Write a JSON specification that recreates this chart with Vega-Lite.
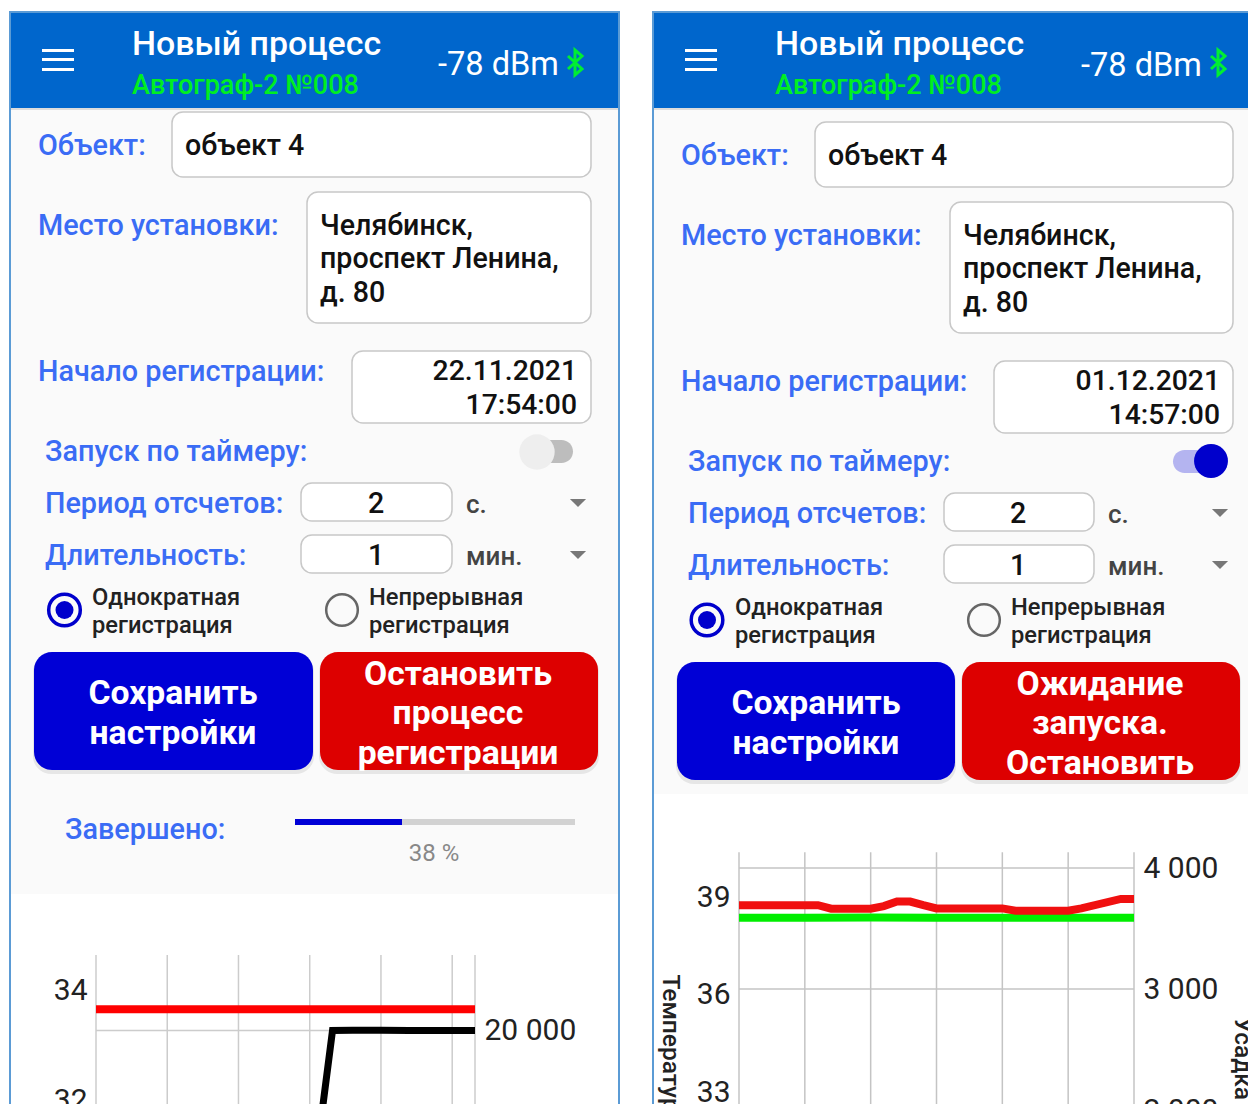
{
"$schema":"https://vega.github.io/schema/vega-lite/v6.json",
"width":1248,"height":1104,"padding":0,"autosize":{"type":"none"},
"background":"#ffffff",
"config":{"view":{"stroke":null},"text":{"font":"Roboto","baseline":"middle"}},
"datasets":{
"panels":[{"x":10,"x2":619,"y":12,"y2":1110},{"x":653,"x2":1262,"y":12,"y2":1110}],
"bodies":[{"x":11,"x2":618,"y":108,"y2":894},{"x":654,"x2":1262,"y":108,"y2":794}],
"headers":[{"x":11,"x2":618,"y":13,"y2":108},{"x":654,"x2":1262,"y":13,"y2":108}],
"headerShadow":[{"x":11,"x2":618,"y":108,"y2":110},{"x":654,"x2":1262,"y":108,"y2":110}],
"menu":[{"x":42,"x2":74,"y":49,"y2":52},{"x":42,"x2":74,"y":58,"y2":61},{"x":42,"x2":74,"y":68,"y2":71},{"x":685,"x2":717,"y":49,"y2":52},{"x":685,"x2":717,"y":58,"y2":61},{"x":685,"x2":717,"y":68,"y2":71}],
"bt":[{"p":"L","o":1,"x":568,"y":56},{"p":"L","o":2,"x":582,"y":69},{"p":"L","o":3,"x":575,"y":75},{"p":"L","o":4,"x":575,"y":50},{"p":"L","o":5,"x":582,"y":56},{"p":"L","o":6,"x":568,"y":69},{"p":"R","o":1,"x":1211,"y":56},{"p":"R","o":2,"x":1225,"y":69},{"p":"R","o":3,"x":1218,"y":75},{"p":"R","o":4,"x":1218,"y":50},{"p":"R","o":5,"x":1225,"y":56},{"p":"R","o":6,"x":1211,"y":69}],
"boxes":[{"x":172,"x2":591,"y":112,"y2":177},{"x":307,"x2":591,"y":192,"y2":323},{"x":352,"x2":591,"y":351,"y2":423},{"x":301,"x2":452,"y":483,"y2":521},{"x":301,"x2":452,"y":535,"y2":573},{"x":815,"x2":1233,"y":122,"y2":187},{"x":950,"x2":1233,"y":202,"y2":333},{"x":994,"x2":1233,"y":361,"y2":433},{"x":944,"x2":1094,"y":493,"y2":531},{"x":944,"x2":1094,"y":545,"y2":583}],
"trackOff":[{"x":525,"x2":573,"y":440,"y2":463}],
"trackOn":[{"x":1173,"x2":1223,"y":450,"y2":473}],
"thumbOff":[{"x":537,"y":452}],
"thumbOn":[{"x":1211,"y":461}],
"tri":[{"x":578,"y":503},{"x":578,"y":555},{"x":1220,"y":513},{"x":1220,"y":565}],
"radioOn":[{"x":64.5,"y":610},{"x":707,"y":620}],
"radioOff":[{"x":342,"y":610},{"x":984,"y":620}],
"shadows":[{"x":33,"x2":314,"y":654,"y2":774},{"x":319,"x2":599,"y":654,"y2":774},{"x":676,"x2":956,"y":664,"y2":784},{"x":961,"x2":1241,"y":664,"y2":784}],
"blueBtn":[{"x":34,"x2":313,"y":652,"y2":770},{"x":677,"x2":955,"y":662,"y2":780}],
"redBtn":[{"x":320,"x2":598,"y":652,"y2":770},{"x":962,"x2":1240,"y":662,"y2":780}],
"progTrack":[{"x":295,"x2":575,"y":819,"y2":825}],
"progFill":[{"x":295,"x2":402,"y":819,"y2":825}],
"titles":[{"x":132,"y":44,"t":"Новый процесс"},{"x":775,"y":44,"t":"Новый процесс"}],
"signal":[{"x":438,"y":64,"t":"-78 dBm"},{"x":1081,"y":65,"t":"-78 dBm"}],
"device":[{"x":132,"y":85,"t":"Автограф-2 №008"},{"x":775,"y":85,"t":"Автограф-2 №008"}],
"labels":[{"x":38,"y":145,"t":"Объект:"},{"x":38,"y":225,"t":"Место установки:"},{"x":38,"y":371,"t":"Начало регистрации:"},{"x":45,"y":451,"t":"Запуск по таймеру:"},{"x":45,"y":503,"t":"Период отсчетов:"},{"x":45,"y":555,"t":"Длительность:"},{"x":65,"y":829,"t":"Завершено:"},{"x":681,"y":155,"t":"Объект:"},{"x":681,"y":235,"t":"Место установки:"},{"x":681,"y":381,"t":"Начало регистрации:"},{"x":688,"y":461,"t":"Запуск по таймеру:"},{"x":688,"y":513,"t":"Период отсчетов:"},{"x":688,"y":565,"t":"Длительность:"}],
"values":[{"x":185,"y":145,"t":"объект 4"},{"x":320,"y":225,"t":"Челябинск,"},{"x":320,"y":258,"t":"проспект Ленина,"},{"x":320,"y":292,"t":"д. 80"},{"x":828,"y":155,"t":"объект 4"},{"x":963,"y":235,"t":"Челябинск,"},{"x":963,"y":268,"t":"проспект Ленина,"},{"x":963,"y":302,"t":"д. 80"}],
"valuesRight":[{"x":577,"y":371,"t":"22.11.2021"},{"x":577,"y":405,"t":"17:54:00"},{"x":1220,"y":381,"t":"01.12.2021"},{"x":1220,"y":415,"t":"14:57:00"}],
"valuesCenter":[{"x":376,"y":503,"t":"2"},{"x":376,"y":555,"t":"1"},{"x":1018,"y":513,"t":"2"},{"x":1018,"y":565,"t":"1"}],
"units":[{"x":466,"y":504,"t":"с."},{"x":466,"y":556,"t":"мин."},{"x":1108,"y":514,"t":"с."},{"x":1108,"y":566,"t":"мин."}],
"radioText":[{"x":92,"y":598,"t":"Однократная"},{"x":92,"y":626,"t":"регистрация"},{"x":369,"y":598,"t":"Непрерывная"},{"x":369,"y":626,"t":"регистрация"},{"x":735,"y":608,"t":"Однократная"},{"x":735,"y":636,"t":"регистрация"},{"x":1011,"y":608,"t":"Непрерывная"},{"x":1011,"y":636,"t":"регистрация"}],
"btnText":[{"x":173,"y":693,"t":"Сохранить"},{"x":173,"y":733,"t":"настройки"},{"x":458,"y":674,"t":"Остановить"},{"x":458,"y":713,"t":"процесс"},{"x":458,"y":753,"t":"регистрации"},{"x":816,"y":703,"t":"Сохранить"},{"x":816,"y":743,"t":"настройки"},{"x":1100,"y":684,"t":"Ожидание"},{"x":1100,"y":723,"t":"запуска."},{"x":1100,"y":763,"t":"Остановить"}],
"pct":[{"x":434,"y":853,"t":"38 %"}],
"leftGridX":[{"t":0},{"t":10},{"t":20},{"t":30},{"t":40},{"t":50},{"t":53.2}],
"leftTemp":[{"t":0,"v":33.65},{"t":10,"v":33.65},{"t":20,"v":33.65},{"t":30,"v":33.65},{"t":40,"v":33.65},{"t":53.2,"v":33.65}],
"leftShrink":[{"t":30,"v":8900},{"t":33.2,"v":20000},{"t":36,"v":20020},{"t":40,"v":20020},{"t":44,"v":20000},{"t":48,"v":20000},{"t":53.2,"v":20000}],
"leftGridY":[{"v":20000}],
"rightGridX":[{"t":0},{"t":10},{"t":20},{"t":30},{"t":40},{"t":50},{"t":60}],
"rightGridY":[{"v":2000},{"v":3000},{"v":4000}],
"rightTemp":[{"t":0,"v":38.75},{"t":12,"v":38.75},{"t":14,"v":38.64},{"t":20,"v":38.64},{"t":22,"v":38.72},{"t":24,"v":38.86},{"t":26,"v":38.86},{"t":28,"v":38.75},{"t":30,"v":38.65},{"t":40,"v":38.65},{"t":42,"v":38.58},{"t":50,"v":38.58},{"t":52,"v":38.65},{"t":58,"v":38.94},{"t":60,"v":38.94}],
"rightTemp2":[{"t":0,"v":38.36},{"t":10,"v":38.36},{"t":20,"v":38.37},{"t":30,"v":38.36},{"t":40,"v":38.36},{"t":50,"v":38.36},{"t":60,"v":38.36}]
},
"resolve":{"scale":{"x":"independent","y":"independent"},"axis":{"x":"independent","y":"independent"}},
"layer":[
{
"encoding":{
"x":{"field":"x","type":"quantitative","scale":{"domain":[0,1248],"range":[0,1248],"nice":false,"zero":false},"axis":null},
"y":{"field":"y","type":"quantitative","scale":{"domain":[0,1104],"range":[0,1104],"nice":false,"zero":false},"axis":null}
},
"layer":[
{"data":{"name":"panels"},"mark":{"type":"rect","fill":"#ffffff","stroke":"#5b9bd5","strokeWidth":2},"encoding":{"x2":{"field":"x2"},"y2":{"field":"y2"}}},
{"data":{"name":"bodies"},"mark":{"type":"rect","fill":"#fafafa"},"encoding":{"x2":{"field":"x2"},"y2":{"field":"y2"}}},
{"data":{"name":"headers"},"mark":{"type":"rect","fill":"#0066cc"},"encoding":{"x2":{"field":"x2"},"y2":{"field":"y2"}}},
{"data":{"name":"headerShadow"},"mark":{"type":"rect","fill":"#dddddd"},"encoding":{"x2":{"field":"x2"},"y2":{"field":"y2"}}},
{"data":{"name":"menu"},"mark":{"type":"rect","fill":"#ffffff"},"encoding":{"x2":{"field":"x2"},"y2":{"field":"y2"}}},
{"data":{"name":"bt"},"mark":{"type":"line","color":"#00ee33","strokeWidth":3},"encoding":{"detail":{"field":"p"},"order":{"field":"o"}}},
{"data":{"name":"boxes"},"mark":{"type":"rect","fill":"#ffffff","stroke":"#c8c8c8","strokeWidth":1.5,"cornerRadius":11},"encoding":{"x2":{"field":"x2"},"y2":{"field":"y2"}}},
{"data":{"name":"trackOff"},"mark":{"type":"rect","fill":"#bdbdbd","cornerRadius":12},"encoding":{"x2":{"field":"x2"},"y2":{"field":"y2"}}},
{"data":{"name":"trackOn"},"mark":{"type":"rect","fill":"#b4b4f0","cornerRadius":12},"encoding":{"x2":{"field":"x2"},"y2":{"field":"y2"}}},
{"data":{"name":"thumbOff"},"mark":{"type":"point","filled":true,"shape":"circle","size":1250,"color":"#eeeeee","opacity":1}},
{"data":{"name":"thumbOn"},"mark":{"type":"point","filled":true,"shape":"circle","size":1150,"color":"#0000cc","opacity":1}},
{"data":{"name":"tri"},"mark":{"type":"point","filled":true,"shape":"M-1,-0.5L1,-0.5L0,0.5Z","size":260,"color":"#777777","opacity":1}},
{"data":{"name":"radioOn"},"mark":{"type":"point","shape":"circle","size":1000,"color":"#0000cc","strokeWidth":3.5,"opacity":1}},
{"data":{"name":"radioOn"},"mark":{"type":"point","filled":true,"shape":"circle","size":324,"color":"#0000cc","opacity":1}},
{"data":{"name":"radioOff"},"mark":{"type":"point","shape":"circle","size":1000,"color":"#666666","strokeWidth":2.5,"opacity":1}},
{"data":{"name":"shadows"},"mark":{"type":"rect","fill":"#e6e6e6","cornerRadius":18},"encoding":{"x2":{"field":"x2"},"y2":{"field":"y2"}}},
{"data":{"name":"blueBtn"},"mark":{"type":"rect","fill":"#0000d6","cornerRadius":18},"encoding":{"x2":{"field":"x2"},"y2":{"field":"y2"}}},
{"data":{"name":"redBtn"},"mark":{"type":"rect","fill":"#dd0000","cornerRadius":18},"encoding":{"x2":{"field":"x2"},"y2":{"field":"y2"}}},
{"data":{"name":"progTrack"},"mark":{"type":"rect","fill":"#d2d2d2"},"encoding":{"x2":{"field":"x2"},"y2":{"field":"y2"}}},
{"data":{"name":"progFill"},"mark":{"type":"rect","fill":"#0000d6"},"encoding":{"x2":{"field":"x2"},"y2":{"field":"y2"}}},
{"data":{"name":"titles"},"mark":{"type":"text","align":"left","dy":1,"fontSize":33.9,"fontWeight":500,"color":"#ffffff"},"encoding":{"text":{"field":"t"}}},
{"data":{"name":"signal"},"mark":{"type":"text","align":"left","dy":1,"fontSize":32.6,"color":"#ffffff"},"encoding":{"text":{"field":"t"}}},
{"data":{"name":"device"},"mark":{"type":"text","align":"left","dy":1,"fontSize":27,"fontWeight":500,"color":"#00ee22"},"encoding":{"text":{"field":"t"}}},
{"data":{"name":"labels"},"mark":{"type":"text","align":"left","dy":1,"fontSize":28.8,"fontWeight":500,"color":"#3a6cf5"},"encoding":{"text":{"field":"t"}}},
{"data":{"name":"values"},"mark":{"type":"text","align":"left","dy":1,"fontSize":28.6,"fontWeight":500,"color":"#111111"},"encoding":{"text":{"field":"t"}}},
{"data":{"name":"valuesRight"},"mark":{"type":"text","align":"right","dy":1,"fontSize":28.3,"fontWeight":500,"color":"#111111"},"encoding":{"text":{"field":"t"}}},
{"data":{"name":"valuesCenter"},"mark":{"type":"text","align":"center","dy":1,"fontSize":28.6,"fontWeight":500,"color":"#111111"},"encoding":{"text":{"field":"t"}}},
{"data":{"name":"units"},"mark":{"type":"text","align":"left","dy":1,"fontSize":26,"fontWeight":500,"color":"#444444"},"encoding":{"text":{"field":"t"}}},
{"data":{"name":"radioText"},"mark":{"type":"text","align":"left","dy":0,"fontSize":23.7,"fontWeight":500,"color":"#222222"},"encoding":{"text":{"field":"t"}}},
{"data":{"name":"btnText"},"mark":{"type":"text","align":"center","dy":1,"fontSize":33.7,"fontWeight":700,"color":"#ffffff"},"encoding":{"text":{"field":"t"}}},
{"data":{"name":"pct"},"mark":{"type":"text","align":"center","dy":1,"fontSize":24,"color":"#888888"},"encoding":{"text":{"field":"t"}}}
]
},
{
"layer":[
{"data":{"name":"leftGridX"},"mark":{"type":"rule","color":"#cccccc","strokeWidth":1.5},"encoding":{
"x":{"field":"t","type":"quantitative","scale":{"domain":[0,53.2],"range":[96,475],"nice":false,"zero":false},"axis":null},
"y":{"datum":34.636,"type":"quantitative","scale":{"domain":[32,34],"range":[1100,990],"nice":false,"zero":false},
"axis":{"zindex":1,"orient":"left","offset":-96,"values":[32,34],"format":"d","domain":false,"ticks":false,"grid":false,"title":null,"labelPadding":9,"labelFont":"Roboto","labelFontSize":30,"labelColor":"#222222","labelOverlap":false,"labelBound":false,"labelFlush":false}},"y2":{"datum":31}}},
{"data":{"name":"leftTemp"},"mark":{"type":"line","color":"#ff0000","strokeWidth":8},"encoding":{
"x":{"field":"t","type":"quantitative"},
"y":{"field":"v","type":"quantitative"}}}
]
},
{
"layer":[
{"data":{"name":"leftGridY"},"mark":{"type":"rule","color":"#cccccc","strokeWidth":1.5},"encoding":{
"y":{"field":"v","type":"quantitative","scale":{"domain":[0,20000],"range":[1350,1030.5],"nice":false,"zero":false},"axis":{"zindex":1,"orient":"right","offset":-773,"values":[20000],"domain":false,"ticks":false,"grid":false,"title":null,"labelPadding":9,"labelFont":"Roboto","labelFontSize":30,"labelColor":"#222222","labelOverlap":false,"labelBound":false,"labelFlush":false,"labelExpr":"replace(format(datum.value,',d'),',',' ')"}},
"x":{"datum":0,"type":"quantitative","scale":{"domain":[0,53.2],"range":[96,475],"nice":false,"zero":false},"axis":null},"x2":{"datum":53.2}}},
{"data":{"name":"leftShrink"},"mark":{"type":"line","color":"#000000","strokeWidth":7},"encoding":{
"x":{"field":"t","type":"quantitative"},
"y":{"field":"v","type":"quantitative"}}}
]
},
{
"layer":[
{"data":{"name":"rightGridX"},"mark":{"type":"rule","color":"#c4c4c4","strokeWidth":1.5},"encoding":{
"x":{"field":"t","type":"quantitative","scale":{"domain":[0,60],"range":[739,1134],"nice":false,"zero":false},"axis":null},
"y":{"datum":40.38,"type":"quantitative","scale":{"domain":[33,39],"range":[1092,897],"nice":false,"zero":false},
"axis":{"zindex":1,"orient":"left","offset":-739,"values":[33,36,39],"format":"d","domain":false,"ticks":false,"grid":false,"title":"Температура","titleFont":"Roboto","titleFontSize":24.5,"titleFontWeight":500,"titleColor":"#222222","titleAngle":90,"titleAlign":"left","titleBaseline":"middle","titleX":-70,"titleY":974,"labelPadding":9,"labelFont":"Roboto","labelFontSize":30,"labelColor":"#222222","labelOverlap":false,"labelBound":false,"labelFlush":false}},"y2":{"datum":32}}},
{"data":{"name":"rightTemp2"},"mark":{"type":"line","color":"#00ee00","strokeWidth":8},"encoding":{
"x":{"field":"t","type":"quantitative"},
"y":{"field":"v","type":"quantitative"}}},
{"data":{"name":"rightTemp"},"mark":{"type":"line","color":"#f01010","strokeWidth":8},"encoding":{
"x":{"field":"t","type":"quantitative"},
"y":{"field":"v","type":"quantitative"}}}
]
},
{
"data":{"name":"rightGridY"},"mark":{"type":"rule","color":"#c4c4c4","strokeWidth":1.5},"encoding":{
"y":{"field":"v","type":"quantitative","scale":{"domain":[2000,4000],"range":[1110,868],"nice":false,"zero":false},"axis":{"zindex":1,"orient":"right","offset":-114,"values":[2000,3000,4000],"domain":false,"ticks":false,"grid":false,"title":"Усадка","titleFont":"Roboto","titleFontSize":24.5,"titleFontWeight":500,"titleColor":"#222222","titleAngle":90,"titleAlign":"left","titleBaseline":"middle","titleX":107,"titleY":1017,"labelPadding":9,"labelFont":"Roboto","labelFontSize":30,"labelColor":"#222222","labelOverlap":false,"labelBound":false,"labelFlush":false,"labelExpr":"replace(format(datum.value,',d'),',',' ')"}},
"x":{"datum":0,"type":"quantitative","scale":{"domain":[0,60],"range":[739,1134],"nice":false,"zero":false},"axis":null},"x2":{"datum":60}}
}
]
}
